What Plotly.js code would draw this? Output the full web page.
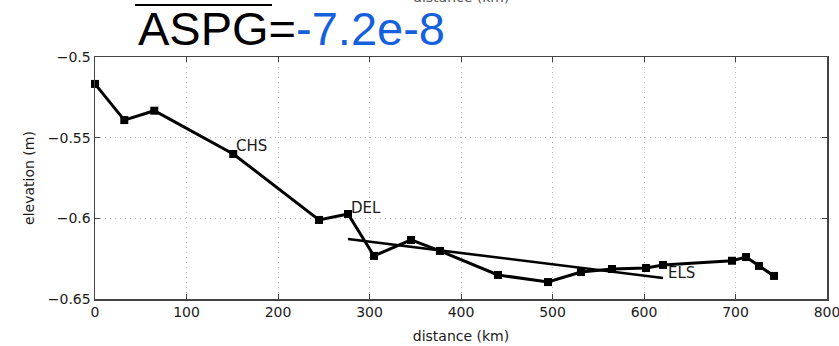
<!DOCTYPE html>
<html>
<head>
<meta charset="utf-8">
<script src="https://cdn.plot.ly/plotly-3.0.1.min.js"></script>
<style>html,body{margin:0;padding:0;background:#fff;}#chart{width:839px;height:346px;}</style>
</head>
<body>
<div id="chart"></div>
<script>
// distance along track (km) and elevation (m)
const distanceKm = [0, 32.0, 64.8, 151.1, 244.8, 276.5, 304.9, 345.4, 377.0, 440.4, 495.1, 531.1, 565.0, 602.2, 620.8, 696.2, 711.5, 725.7, 742.1];
const elevationM = [-0.5167, -0.5391, -0.5333, -0.5601, -0.6010, -0.5973, -0.6233, -0.6134, -0.6202, -0.6351, -0.6395, -0.6333, -0.6314, -0.6308, -0.6289, -0.6263, -0.6240, -0.6295, -0.6357];
// fitted trend line end points
const trendX = [276.5, 620.8];
const trendY = [-0.6128, -0.6370];
// labelled stations (index into the arrays above)
const stationNames = ['CHS', 'DEL', 'ELS'];
const stationIdx = [3, 5, 14];
const titleLabel = 'ASPG';
const titleValue = '-7.2e-8';
const xTicks = [0, 100, 200, 300, 400, 500, 600, 700, 800];
const yTicks = [-0.65, -0.6, -0.55, -0.5];

const labelShift = {CHS: [1, 8], DEL: [1, 6], ELS: [3, -8]};
const font = 'DejaVu Sans, sans-serif';
const txt = '#1a1a1a';

const traces = [
  {x: distanceKm, y: elevationM, type: 'scatter', mode: 'lines+markers',
   line: {color: '#000', width: 3}, marker: {symbol: 'square', size: 8, color: '#000'},
   cliponaxis: false, hoverinfo: 'skip'},
  {x: trendX, y: trendY, type: 'scatter', mode: 'lines',
   line: {color: '#000', width: 2.6}, hoverinfo: 'skip'}
];

const annotations = stationNames.map((n, i) => ({
  x: distanceKm[stationIdx[i]], y: elevationM[stationIdx[i]], xref: 'x', yref: 'y',
  text: n, showarrow: false, xanchor: 'left', yanchor: 'middle',
  xshift: labelShift[n][0], yshift: labelShift[n][1],
  font: {family: font, size: 15, color: txt}
}));
annotations.push({
  xref: 'paper', yref: 'paper', x: 0.268, y: 1.0, yshift: 0, xanchor: 'center', yanchor: 'bottom',
  text: titleLabel + '=<span style="color:#1560dc">' + titleValue + '</span>',
  showarrow: false, font: {family: 'Liberation Sans, Arial, sans-serif', size: 47, color: '#000'}
});
annotations.push({
  xref: 'paper', yref: 'paper', x: 0.5, y: 1.2, yshift: 2, xanchor: 'center', yanchor: 'bottom',
  text: 'distance (km)', showarrow: false, font: {family: font, size: 14, color: '#555'}
});

const axisCommon = {
  showline: true, mirror: 'ticks', linecolor: '#444', linewidth: 1.5,
  ticks: 'inside', ticklen: 5, tickcolor: '#444', tickwidth: 1,
  showgrid: true, gridcolor: '#b8b8b8', griddash: '1px,4px', gridwidth: 1,
  zeroline: false, ticklabeloverflow: 'allow',
  tickfont: {family: font, size: 14, color: txt}
};

const layout = {
  width: 839, height: 346,
  margin: {l: 95, r: 12, t: 57, b: 47},
  paper_bgcolor: '#fff', plot_bgcolor: '#fff',
  showlegend: false,
  xaxis: Object.assign({}, axisCommon, {range: [0, 800], tickvals: xTicks,
    title: {text: 'distance (km)', font: {family: font, size: 14, color: txt}, standoff: 12}}),
  yaxis: Object.assign({}, axisCommon, {range: [-0.65, -0.5], tickvals: yTicks,
    title: {text: 'elevation (m)', font: {family: font, size: 14, color: txt}, standoff: 10}}),
  annotations: annotations,
  shapes: [{type: 'line', xref: 'paper', yref: 'paper', x0: 0.0546, x1: 0.2418, y0: 1.2149, y1: 1.2149,
    line: {color: '#000', width: 2}}]
};

Plotly.newPlot('chart', traces, layout, {displayModeBar: false, staticPlot: true});
</script>
</body>
</html>
